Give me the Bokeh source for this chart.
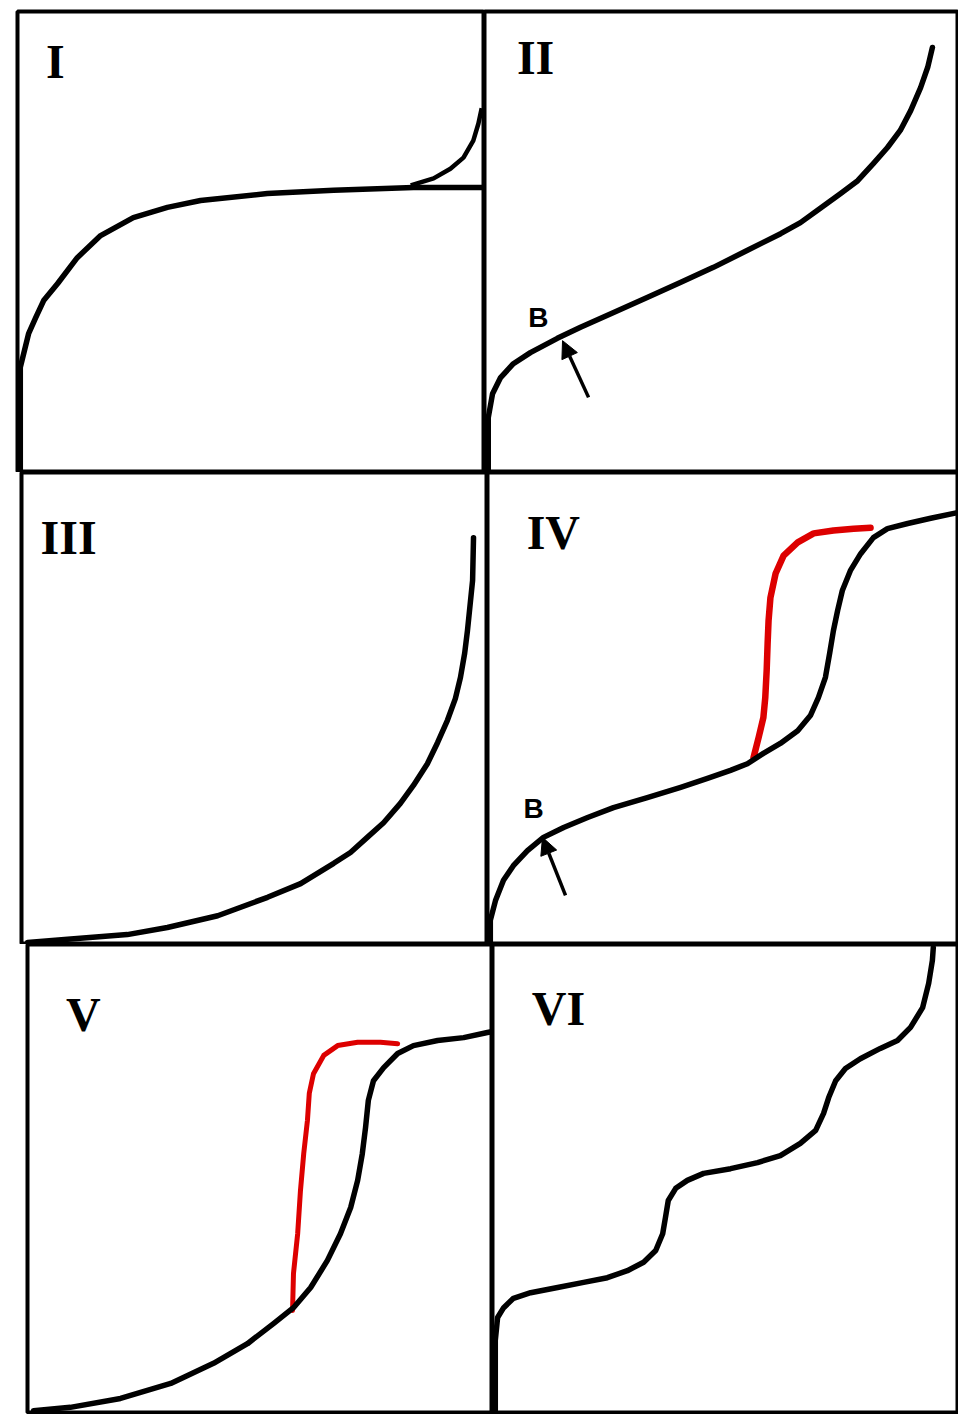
from bokeh.plotting import figure
from bokeh.layouts import row, column
from bokeh.models import Range1d, Label, Arrow, NormalHead
from bokeh.embed import file_html
from bokeh.resources import INLINE

# ---------------- data (relative pressure p, amount adsorbed n; both 0..1) ----------------
# Type I
t1_p = [0.006, 0.006, 0.006, 0.024, 0.039, 0.056, 0.086, 0.128, 0.178, 0.248, 0.321, 0.392,
        0.535, 0.677, 0.848, 1.0]
t1_n = [0.0, 0.091, 0.228, 0.302, 0.336, 0.373, 0.410, 0.466, 0.514, 0.553, 0.575, 0.590,
        0.605, 0.612, 0.618, 0.618]
t1_hys_p = [0.842, 0.891, 0.927, 0.955, 0.976, 0.987, 0.994]
t1_hys_n = [0.623, 0.638, 0.659, 0.683, 0.720, 0.757, 0.790]

# Type II
t2_p = [0.008, 0.008, 0.017, 0.034, 0.061, 0.097, 0.154, 0.203, 0.273, 0.345, 0.414, 0.484,
        0.556, 0.626, 0.668, 0.710, 0.753, 0.789, 0.822, 0.852, 0.879, 0.901, 0.922, 0.937,
        0.947]
t2_n = [0.0, 0.119, 0.171, 0.206, 0.236, 0.260, 0.291, 0.315, 0.347, 0.380, 0.412, 0.445,
        0.482, 0.518, 0.542, 0.573, 0.605, 0.633, 0.670, 0.705, 0.742, 0.785, 0.835, 0.879,
        0.922]

# Type III
t3_p = [0.013, 0.099, 0.227, 0.313, 0.421, 0.528, 0.599, 0.670, 0.706, 0.742, 0.777, 0.813,
        0.841, 0.871, 0.893, 0.914, 0.931, 0.942, 0.951, 0.957, 0.968, 0.970]
t3_n = [0.004, 0.011, 0.021, 0.036, 0.061, 0.100, 0.129, 0.172, 0.195, 0.227, 0.258, 0.299,
        0.337, 0.383, 0.428, 0.475, 0.521, 0.566, 0.617, 0.665, 0.771, 0.862]

# Type IV (adsorption, black) and desorption (red)
t4_p = [0.006, 0.006, 0.017, 0.034, 0.055, 0.085, 0.119, 0.162, 0.213, 0.268, 0.340, 0.411,
        0.468, 0.517, 0.553, 0.587, 0.623, 0.660, 0.687, 0.704, 0.719, 0.728, 0.736, 0.745,
        0.755, 0.772, 0.794, 0.821, 0.851, 0.894, 0.943, 1.0]
t4_n = [0.002, 0.051, 0.093, 0.136, 0.167, 0.199, 0.227, 0.248, 0.269, 0.290, 0.311, 0.333,
        0.352, 0.369, 0.383, 0.405, 0.426, 0.453, 0.485, 0.523, 0.566, 0.617, 0.665, 0.708,
        0.750, 0.792, 0.828, 0.862, 0.881, 0.892, 0.903, 0.915]
t4_des_p = [0.566, 0.577, 0.587, 0.591, 0.594, 0.596, 0.598, 0.602, 0.613, 0.630, 0.660,
            0.694, 0.736, 0.779, 0.815]
t4_des_n = [0.396, 0.439, 0.481, 0.523, 0.581, 0.638, 0.686, 0.735, 0.786, 0.824, 0.852,
            0.871, 0.877, 0.881, 0.883]

# Type V (adsorption, black) and desorption (red)
t5_p = [0.013, 0.092, 0.200, 0.308, 0.400, 0.473, 0.529, 0.572, 0.609, 0.645, 0.673, 0.695,
        0.710, 0.720, 0.727, 0.733, 0.744, 0.766, 0.796, 0.830, 0.882, 0.938, 0.989, 1.0]
t5_n = [0.004, 0.011, 0.030, 0.062, 0.105, 0.147, 0.190, 0.224, 0.267, 0.325, 0.382, 0.438,
        0.496, 0.553, 0.609, 0.667, 0.709, 0.737, 0.767, 0.784, 0.795, 0.801, 0.812, 0.814]
t5_des_p = [0.570, 0.572, 0.581, 0.587, 0.594, 0.602, 0.606, 0.615, 0.637, 0.667, 0.710,
            0.759, 0.796]
t5_des_n = [0.218, 0.297, 0.382, 0.474, 0.553, 0.624, 0.682, 0.724, 0.763, 0.784, 0.791,
            0.791, 0.788]

# Type VI (stepwise)
t6_p = [0.006, 0.006, 0.011, 0.024, 0.045, 0.082, 0.140, 0.196, 0.247, 0.290, 0.325, 0.351,
        0.366, 0.372, 0.378, 0.394, 0.419, 0.454, 0.512, 0.570, 0.619, 0.662, 0.695, 0.712,
        0.723, 0.738, 0.759, 0.791, 0.834, 0.871, 0.899, 0.925, 0.938, 0.946, 0.948]
t6_n = [0.004, 0.154, 0.203, 0.224, 0.244, 0.256, 0.267, 0.278, 0.288, 0.303, 0.321, 0.346,
        0.382, 0.417, 0.453, 0.479, 0.496, 0.511, 0.521, 0.534, 0.549, 0.575, 0.603, 0.639,
        0.673, 0.709, 0.735, 0.756, 0.778, 0.795, 0.823, 0.865, 0.917, 0.966, 0.994]

panel_names = ["I", "II", "III", "IV", "V", "VI"]

BLACK = "black"
RED = "#dd0000"


def panel(width, height, left=0, right=0, top=0, bottom=0):
    p = figure(width=width, height=height, output_backend="svg", toolbar_location=None,
               x_range=Range1d(0, 1), y_range=Range1d(0, 1),
               x_axis_location=None, y_axis_location=None,
               min_border=0, min_border_left=left, min_border_right=right,
               min_border_top=top, min_border_bottom=bottom)
    p.grid.visible = False
    p.outline_line_color = BLACK
    p.outline_line_width = 4
    p.background_fill_color = "white"
    p.border_fill_color = "white"
    return p


def numeral(p, text, x, y):
    p.add_layout(Label(x=x, y=y, text=text, text_font="Liberation Serif",
                       text_font_style="bold", text_font_size="48px",
                       text_align="center", text_baseline="middle", text_color=BLACK))


def b_mark(p, x, y, ax0, ay0, ax1, ay1):
    p.add_layout(Label(x=x, y=y, text="B", text_font="Liberation Sans",
                       text_font_style="bold", text_font_size="28px",
                       text_align="center", text_baseline="middle", text_color=BLACK))
    p.add_layout(Arrow(x_start=ax0, y_start=ay0, x_end=ax1, y_end=ay1,
                       line_width=3.5, line_color=BLACK,
                       end=NormalHead(size=17, fill_color=BLACK, line_color=BLACK)))


LW = 5.5

# Row 1
p1 = panel(484, 472, left=17, top=11)
p1.line(t1_p, t1_n, line_width=LW, line_color=BLACK, line_join="round", line_cap="round")
p1.line(t1_hys_p, t1_hys_n, line_width=4.5, line_color=BLACK, line_join="round")
numeral(p1, panel_names[0], 0.081, 0.892)

p2 = panel(474, 472, right=1, top=11)
p2.line(t2_p, t2_n, line_width=LW, line_color=BLACK, line_join="round", line_cap="round")
numeral(p2, panel_names[1], 0.108, 0.900)
b_mark(p2, 0.114, 0.336, 0.220, 0.163, 0.165, 0.286)

# Row 2
p3 = panel(487, 472, left=21)
p3.line(t3_p, t3_n, line_width=LW, line_color=BLACK, line_join="round", line_cap="round")
numeral(p3, panel_names[2], 0.101, 0.862)

p4 = panel(471, 472, right=1)
p4.line(t4_des_p, t4_des_n, line_width=6.5, line_color=RED, line_join="round", line_cap="round")
p4.line(t4_p, t4_n, line_width=LW, line_color=BLACK, line_join="round", line_cap="round")
numeral(p4, panel_names[3], 0.140, 0.873)
b_mark(p4, 0.098, 0.288, 0.166, 0.104, 0.117, 0.227)

# Row 3
p5 = panel(492, 470, left=27, bottom=2)
p5.line(t5_des_p, t5_des_n, line_width=5, line_color=RED, line_join="round", line_cap="round")
p5.line(t5_p, t5_n, line_width=LW, line_color=BLACK, line_join="round", line_cap="round")
numeral(p5, panel_names[4], 0.120, 0.850)

p6 = panel(466, 470, right=1, bottom=2)
p6.line(t6_p, t6_n, line_width=LW, line_color=BLACK, line_join="round", line_cap="round")
numeral(p6, panel_names[5], 0.142, 0.863)

layout = column(row(p1, p2), row(p3, p4), row(p5, p6))

open("out.html", "w").write(file_html(layout, INLINE))
